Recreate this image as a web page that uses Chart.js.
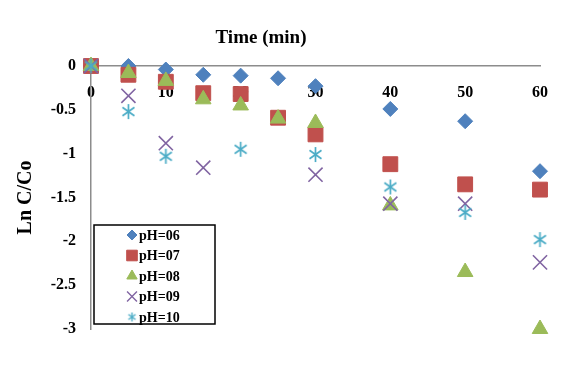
<!DOCTYPE html>
<html>
<head>
<meta charset="utf-8">
<script src="https://cdn.jsdelivr.net/npm/chart.js@4/dist/chart.umd.min.js"></script>
<style>
  html, body { margin: 0; padding: 0; background: #fff; }
  #wrap { width: 576px; height: 384px; }
</style>
</head>
<body>
<div id="wrap"><canvas id="c" width="576" height="384"></canvas></div>
<script>
// ---- data ----
const times = [0, 5, 10, 15, 20, 25, 30, 40, 50, 60];
const seriesNames = ['pH=06', 'pH=07', 'pH=08', 'pH=09', 'pH=10'];
const ph06 = [0, 0.0, -0.04, -0.10, -0.11, -0.14, -0.23, -0.49, -0.63, -1.20];
const ph07 = [0, -0.10, -0.18, -0.31, -0.32, -0.59, -0.78, -1.12, -1.35, -1.41];
const ph08 = [0, -0.08, -0.17, -0.38, -0.45, -0.60, -0.65, -1.59, -2.35, -3.00];
const ph09 = [0, -0.34, -0.88, -1.16, null, null, -1.24, -1.57, -1.57, -2.24];
const ph10 = [0, -0.52, -1.03, null, -0.95, null, -1.01, -1.38, -1.67, -1.98];
const xTicks = [0, 10, 20, 30, 40, 50, 60];
const yTicks = [0, -0.5, -1, -1.5, -2, -2.5, -3];
const chartTitle = 'Time (min)';
const yTitle = 'Ln C/Co';

// ---- styles ----
const colors = ['#4F81BD', '#C0504D', '#9BBB59', '#8064A2', '#4BACC6'];
const FONT = "'Liberation Serif', 'Times New Roman', serif";

function makeStar(size, color, lw) {
  const c = document.createElement('canvas');
  c.width = size; c.height = size;
  const g = c.getContext('2d');
  const h = size / 2, r = h - 1;
  g.strokeStyle = color; g.lineWidth = lw;
  g.beginPath();
  g.moveTo(h, h - r); g.lineTo(h, h + r);
  const d = r * 0.8;
  g.moveTo(h - d, h - d * 0.7); g.lineTo(h + d, h + d * 0.7);
  g.moveTo(h - d, h + d * 0.7); g.lineTo(h + d, h - d * 0.7);
  g.stroke();
  return c;
}
const starBig = makeStar(17, colors[4], 1.7);
const starSmall = makeStar(11, colors[4], 1.4);

const styles = [
  { pointStyle: 'rectRot', radius: 7.5, legendRadius: 5 },
  { pointStyle: 'rect', radius: 10.5, legendRadius: 7.5 },
  { pointStyle: 'triangle', radius: 9, legendRadius: 6 },
  { pointStyle: 'crossRot', radius: 10, legendRadius: 7 },
  { pointStyle: starBig, radius: 8, legendRadius: 5, legendImg: starSmall }
];
const allSeries = [ph06, ph07, ph08, ph09, ph10];

const datasets = allSeries.map((vals, i) => ({
  label: seriesNames[i],
  data: times.map((t, j) => vals[j] === null ? null : { x: t, y: vals[j] }).filter(p => p !== null),
  pointStyle: styles[i].pointStyle,
  pointRadius: styles[i].radius,
  pointHoverRadius: styles[i].radius,
  backgroundColor: colors[i],
  borderColor: colors[i],
  borderWidth: (i >= 3) ? 1.6 : 1,
  showLine: false,
  clip: false,
  order: allSeries.length - 1 - i
}));

const titlePlugin = {
  id: 'customTitle',
  afterDraw(chart) {
    const ctx = chart.ctx;
    ctx.save();
    ctx.font = 'bold 19px ' + FONT;
    ctx.fillStyle = '#000';
    ctx.textAlign = 'center';
    ctx.textBaseline = 'middle';
    ctx.fillText(chartTitle, 261, 38);
    ctx.restore();
  }
};

const legendPlugin = {
  id: 'boxLegend',
  afterDraw(chart) {
    const ctx = chart.ctx;
    const x0 = 94, y0 = 225, w = 121, h = 99;
    ctx.save();
    ctx.fillStyle = '#fff';
    ctx.fillRect(x0, y0, w, h);
    ctx.strokeStyle = '#000';
    ctx.lineWidth = 1.5;
    ctx.strokeRect(x0, y0, w, h);
    ctx.font = 'bold 14px ' + FONT;
    ctx.textAlign = 'left';
    ctx.textBaseline = 'middle';
    chart.data.datasets.forEach((ds, i) => {
      const cy = 235 + i * 20.5;
      const mx = 132;
      ctx.fillStyle = colors[i];
      ctx.strokeStyle = colors[i];
      ctx.lineWidth = i >= 3 ? 1.4 : 1;
      const ps = styles[i].legendImg ? styles[i].legendImg : styles[i].pointStyle;
      Chart.helpers.drawPoint(ctx, { pointStyle: ps, radius: styles[i].legendRadius, rotation: 0, borderWidth: ctx.lineWidth }, mx, cy);
      ctx.fillStyle = '#000';
      ctx.fillText(ds.label, 139, cy + 1);
    });
    ctx.restore();
  }
};

const xTickFont = { family: FONT, size: 16, weight: 'bold' };

new Chart(document.getElementById('c'), {
  type: 'scatter',
  data: { datasets },
  options: {
    responsive: false,
    animation: false,
    devicePixelRatio: 1,
    layout: { padding: { left: 0, right: 36, top: 66, bottom: 55 } },
    plugins: {
      legend: { display: false },
      tooltip: { enabled: false },
      title: { display: false }
    },
    scales: {
      xLine: {
        type: 'linear',
        axis: 'x',
        position: { y: 0 },
        min: 0, max: 60,
        z: 0,
        grid: { display: false, drawTicks: false },
        border: { display: true, color: '#8c8c8c', width: 1.5 },
        ticks: { display: false }
      },
      x: {
        type: 'linear',
        position: { y: 0 },
        min: 0, max: 60,
        z: 1,
        afterBuildTicks(scale) { scale.ticks = xTicks.map(v => ({ value: v })); },
        grid: { display: false, drawTicks: false },
        border: { display: false },
        ticks: {
          color: '#000',
          font: xTickFont,
          padding: 17,
          maxRotation: 0,
          callback: v => String(v)
        }
      },
      y: {
        type: 'linear',
        min: -3, max: 0,
        afterBuildTicks(scale) { scale.ticks = yTicks.map(v => ({ value: v })); },
        afterFit(scale) { scale.width = 91; },
        grid: { display: false, drawTicks: false },
        border: { display: true, color: '#8c8c8c', width: 1.5 },
        ticks: {
          color: '#000',
          font: { family: FONT, size: 16, weight: 'bold' },
          padding: 15,
          callback: v => String(v)
        },
        title: {
          display: true,
          text: yTitle,
          color: '#000',
          font: { family: FONT, size: 20, weight: 'bold' },
          padding: { top: 14, bottom: 0 }
        }
      }
    }
  },
  plugins: [titlePlugin, legendPlugin]
});
</script>
</body>
</html>
